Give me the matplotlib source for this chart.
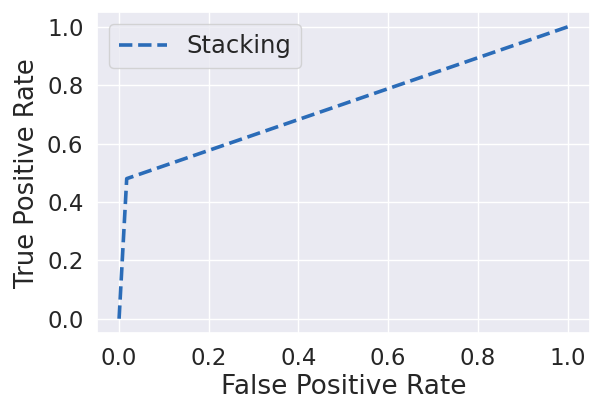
import numpy as np
import matplotlib
matplotlib.use('Agg')
import matplotlib.pyplot as plt
import seaborn as sns

# ROC curve points for the stacking classifier
fpr = [0.0, 0.017, 1.0]
tpr = [0.0, 0.48, 1.0]

sns.set_theme(style='darkgrid')
plt.rcParams['font.family'] = ['DejaVu Sans']

fig, ax = plt.subplots(figsize=(5.93, 4.09), dpi=100)
ax.plot(fpr, tpr, linestyle='--', color='#2b6cb8', linewidth=2.6, label='Stacking')

ax.set_xlabel('False Positive Rate', fontsize=19, labelpad=3)
ax.set_ylabel('True Positive Rate', fontsize=18.5, labelpad=5)
ax.tick_params(labelsize=16.5)
ax.legend(loc='upper left', fontsize=17.5)

fig.subplots_adjust(left=0.163, right=0.995, top=0.97, bottom=0.185)
fig.savefig('out.png')
